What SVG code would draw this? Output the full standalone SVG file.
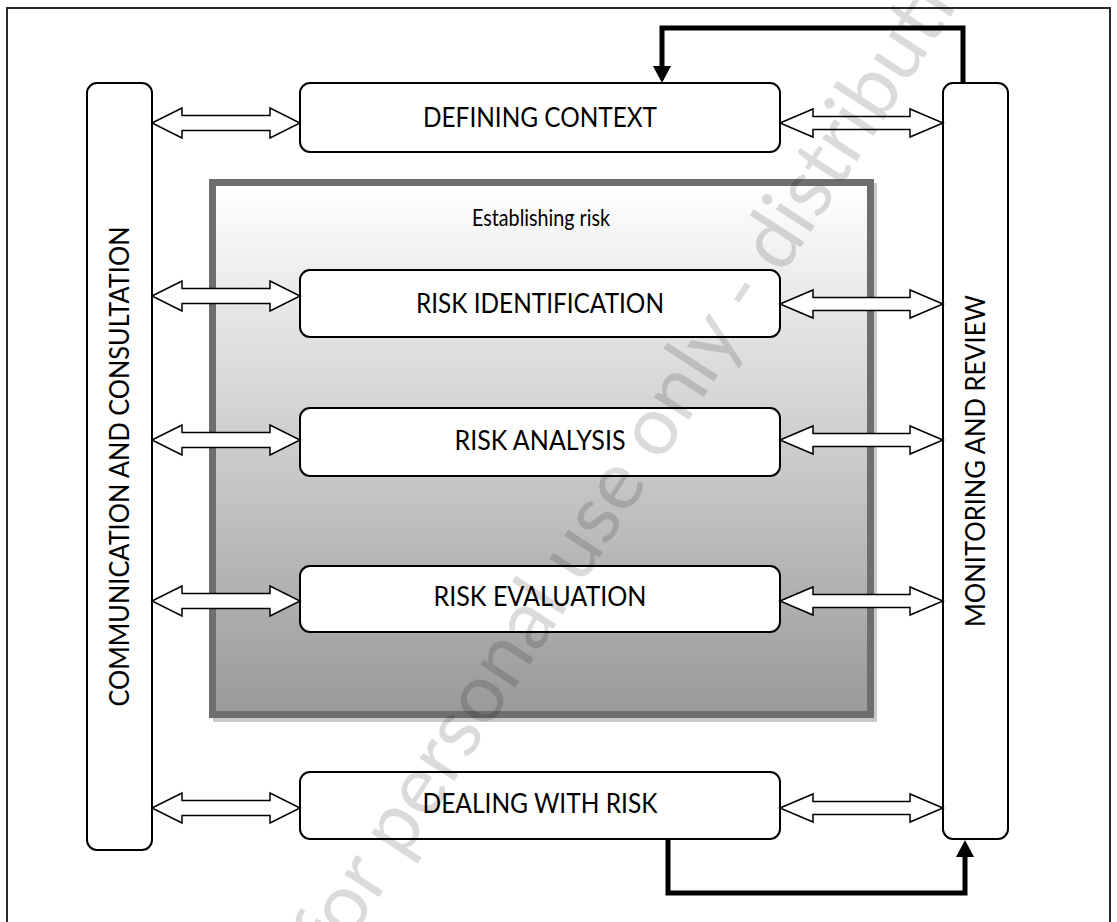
<svg xmlns="http://www.w3.org/2000/svg" width="1117" height="922" viewBox="0 0 1117 922">
  <defs>
    <style>
      .frame{fill:none;stroke:#2a2a2a;stroke-width:2}
      .box{fill:#fff;stroke:#000;stroke-width:2}
      .lbl{font-family:Lato,"Liberation Sans",sans-serif;font-size:26px;fill:#000;text-anchor:middle}
      .sub{font-family:Lato,"Liberation Sans",sans-serif;font-size:24px;fill:#000;text-anchor:middle}
      .dbl{fill:#fff;stroke:#000;stroke-width:1.5;stroke-linejoin:miter}
      .fb{fill:none;stroke:#000;stroke-width:5;stroke-linejoin:miter}
      .mark{font-family:Lato,"Liberation Sans",sans-serif;font-size:82px;fill:#000;fill-opacity:0.14;text-anchor:middle}
    </style>
    <linearGradient id="riskFill" x1="0" y1="0" x2="0" y2="1">
      <stop offset="0" stop-color="#ffffff"/>
      <stop offset="1" stop-color="#999999"/>
    </linearGradient>
    <!-- hollow double-headed block arrows, drawn at y = 0 -->
    <path id="arrowL" d="M152,0 L182,-15 L182,-7.5 L270,-7.5 L270,-15 L300,0 L270,15 L270,7.5 L182,7.5 L182,15 Z"/>
    <path id="arrowR" d="M780,0 L813,-14 L813,-6.5 L910,-6.5 L910,-14 L943,0 L910,14 L910,6.5 L813,6.5 L813,14 Z"/>
    <marker id="head" markerUnits="userSpaceOnUse" viewBox="0 0 17 18" markerWidth="17" markerHeight="18" refX="0" refY="9" orient="auto">
      <path d="M0,0 L17,9 L0,18 Z" fill="#000"/>
    </marker>
  </defs>

  <rect width="1117" height="922" fill="#fff"/>

  <!-- page frame -->
  <path class="frame" d="M7,922 V8 H1110 V922"/>

  <!-- establishing risk panel -->
  <g id="establishing-risk">
    <rect x="213" y="183" width="664" height="539" fill="#c9c9c9"/>
    <rect x="212.5" y="182.5" width="658" height="532" fill="url(#riskFill)" stroke="#6e6e6e" stroke-width="7"/>
    <text class="sub" x="541" y="226" textLength="138" lengthAdjust="spacingAndGlyphs">Establishing risk</text>
  </g>

  <g id="communication">
    <rect class="box" x="87" y="83" width="65" height="767" rx="10"/>
    <text class="lbl" x="129" y="466.5" transform="rotate(-90 129 466.5)" textLength="480" lengthAdjust="spacingAndGlyphs">COMMUNICATION AND CONSULTATION</text>
  </g>

  <g id="monitoring">
    <rect class="box" x="943" y="83" width="65" height="756" rx="10"/>
    <text class="lbl" x="985" y="461" transform="rotate(-90 985 461)" textLength="332" lengthAdjust="spacingAndGlyphs">MONITORING AND REVIEW</text>
  </g>

  <g id="defining-context">
    <rect class="box" x="300" y="83" width="480" height="69" rx="10"/>
    <text class="lbl" x="540" y="127" textLength="234" lengthAdjust="spacingAndGlyphs">DEFINING CONTEXT</text>
  </g>

  <g id="risk-identification">
    <rect class="box" x="300" y="270" width="480" height="67" rx="10"/>
    <text class="lbl" x="540" y="313" textLength="248" lengthAdjust="spacingAndGlyphs">RISK IDENTIFICATION</text>
  </g>

  <g id="risk-analysis">
    <rect class="box" x="300" y="408" width="480" height="68" rx="10"/>
    <text class="lbl" x="540" y="450" textLength="171" lengthAdjust="spacingAndGlyphs">RISK ANALYSIS</text>
  </g>

  <g id="risk-evaluation">
    <rect class="box" x="300" y="566" width="480" height="66" rx="10"/>
    <text class="lbl" x="540" y="606" textLength="213" lengthAdjust="spacingAndGlyphs">RISK EVALUATION</text>
  </g>

  <g id="dealing-with-risk">
    <rect class="box" x="300" y="772" width="480" height="67" rx="10"/>
    <text class="lbl" x="540" y="813" textLength="235" lengthAdjust="spacingAndGlyphs">DEALING WITH RISK</text>
  </g>

  <!-- connectors -->
  <g id="connectors">
    <use href="#arrowL" class="dbl" transform="translate(0 123)"/>
    <use href="#arrowR" class="dbl" transform="translate(0 123)"/>
    <use href="#arrowL" class="dbl" transform="translate(0 296)"/>
    <use href="#arrowR" class="dbl" transform="translate(0 304)"/>
    <use href="#arrowL" class="dbl" transform="translate(0 440)"/>
    <use href="#arrowR" class="dbl" transform="translate(0 440)"/>
    <use href="#arrowL" class="dbl" transform="translate(0 601)"/>
    <use href="#arrowR" class="dbl" transform="translate(0 601)"/>
    <use href="#arrowL" class="dbl" transform="translate(0 808)"/>
    <use href="#arrowR" class="dbl" transform="translate(0 808)"/>
    <!-- review loop back to context -->
    <polyline class="fb" points="963,83 963,28 662,28 662,66" marker-end="url(#head)"/>
    <!-- treatment feeding monitoring -->
    <polyline class="fb" points="668,839 668,893 965,893 965,857" marker-end="url(#head)"/>
  </g>

  <!-- watermark -->
  <text class="mark" x="672" y="446" transform="rotate(-57 672 446)">for personal use only - distribution</text>
</svg>
